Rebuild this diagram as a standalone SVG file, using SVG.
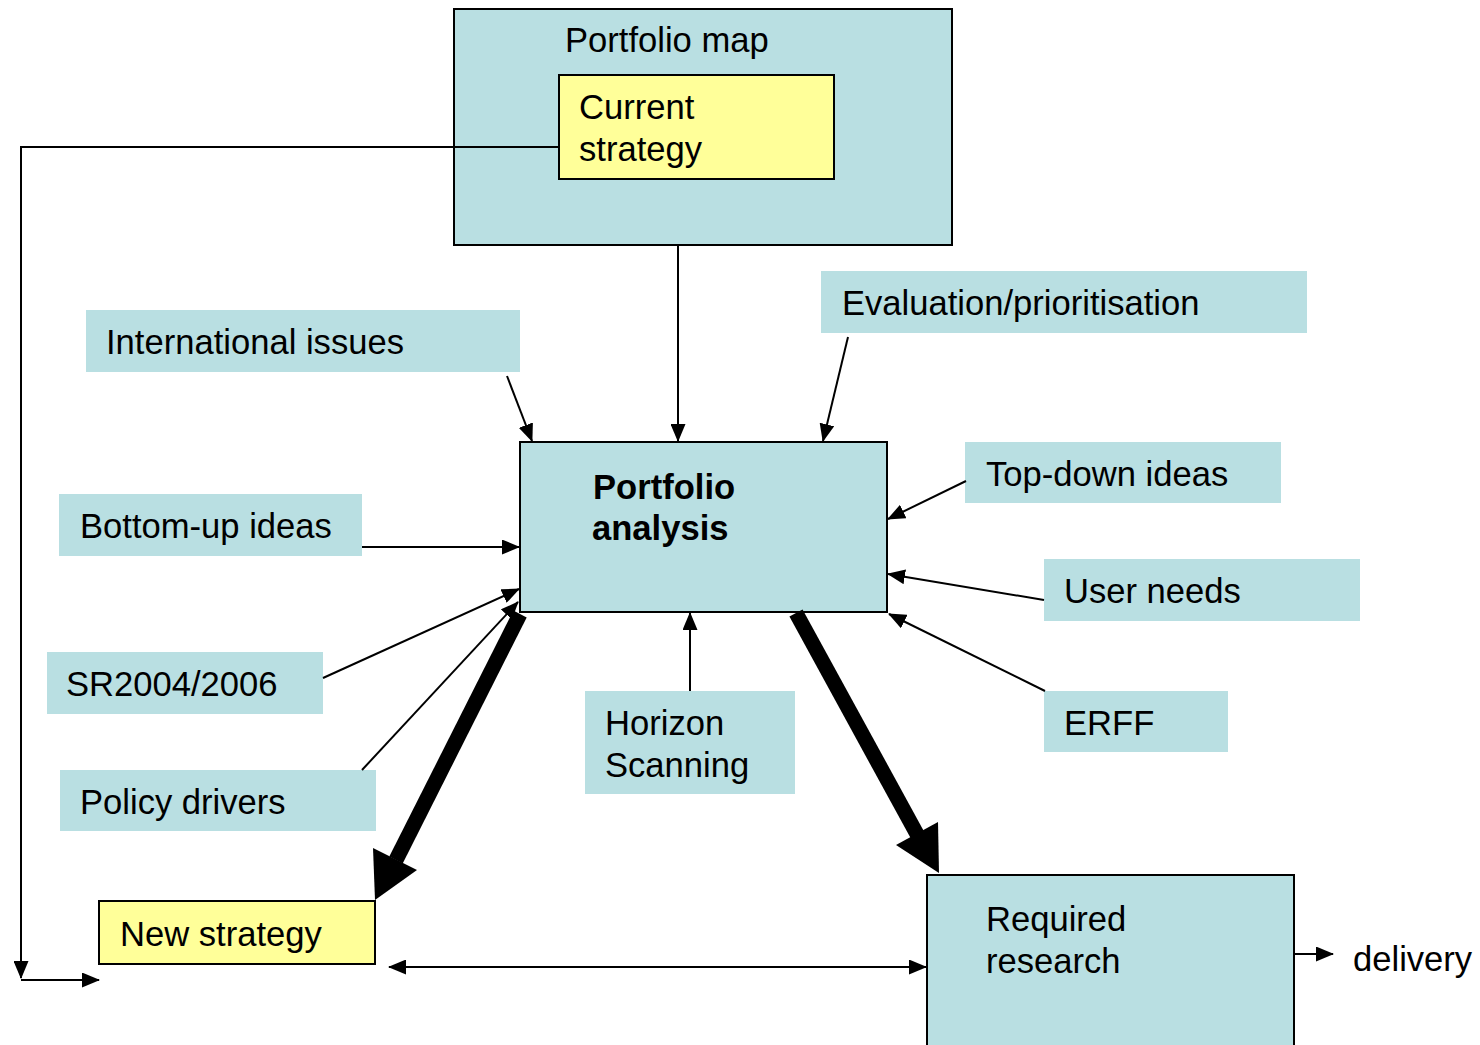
<svg xmlns="http://www.w3.org/2000/svg" width="1480" height="1045" viewBox="0 0 1480 1045">
<defs>
<marker id="ah" markerUnits="userSpaceOnUse" markerWidth="18" markerHeight="15" viewBox="0 0 18 15" refX="17" refY="7.5" orient="auto-start-reverse">
<path d="M0,0 L18,7.5 L0,15 Z" fill="#000"/>
</marker>
<style>
.t{font-family:"Liberation Sans",Arial,sans-serif;font-size:34.6px;fill:#000}
.b{font-weight:bold}
.blue{fill:#B9DFE2}
.blues{fill:#B9DFE2;stroke:#000;stroke-width:2}
.yel{fill:#FFFF99;stroke:#000;stroke-width:2}
.c{fill:none;stroke:#000;stroke-width:2}
</style>
</defs>
<rect width="1480" height="1045" fill="#fff"/>

<g id="portfolio-map">
<rect class="blues" x="454" y="9" width="498" height="236"/>
<text class="t" x="565" y="52">Portfolio map</text>
</g>
<g id="current-strategy">
<rect class="yel" x="559" y="75" width="275" height="104"/>
<text class="t" x="579" y="119">Current</text>
<text class="t" x="579" y="161">strategy</text>
</g>
<g id="international-issues">
<rect class="blue" x="86" y="310" width="434" height="62"/>
<text class="t" x="106" y="354">International issues</text>
</g>
<g id="evaluation">
<rect class="blue" x="821" y="271" width="486" height="62"/>
<text class="t" x="842" y="315">Evaluation/prioritisation</text>
</g>
<g id="portfolio-analysis">
<rect class="blues" x="520" y="442" width="367" height="170"/>
<text class="t b" x="593" y="499">Portfolio</text>
<text class="t b" x="592" y="540">analysis</text>
</g>
<g id="bottom-up">
<rect class="blue" x="59" y="494" width="303" height="62"/>
<text class="t" x="80" y="538">Bottom-up ideas</text>
</g>
<g id="top-down">
<rect class="blue" x="965" y="442" width="316" height="61"/>
<text class="t" x="986" y="486">Top-down ideas</text>
</g>
<g id="user-needs">
<rect class="blue" x="1044" y="559" width="316" height="62"/>
<text class="t" x="1064" y="603">User needs</text>
</g>
<g id="sr2004">
<rect class="blue" x="47" y="652" width="276" height="62"/>
<text class="t" x="66" y="696">SR2004/2006</text>
</g>
<g id="erff">
<rect class="blue" x="1044" y="691" width="184" height="61"/>
<text class="t" x="1064" y="735">ERFF</text>
</g>
<g id="horizon-scanning">
<rect class="blue" x="585" y="691" width="210" height="103"/>
<text class="t" x="605" y="735">Horizon</text>
<text class="t" x="605" y="777">Scanning</text>
</g>
<g id="policy-drivers">
<rect class="blue" x="60" y="770" width="316" height="61"/>
<text class="t" x="80" y="814">Policy drivers</text>
</g>
<g id="new-strategy">
<rect class="yel" x="99" y="901" width="276" height="63"/>
<text class="t" x="120" y="946">New strategy</text>
</g>
<g id="required-research">
<rect class="blues" x="927" y="875" width="367" height="175"/>
<text class="t" x="986" y="931">Required</text>
<text class="t" x="986" y="973">research</text>
</g>
<g id="delivery">
<text class="t" x="1353" y="971">delivery</text>
</g>

<g id="connectors">
<polyline class="c" points="558,147 21,147 21,978" marker-end="url(#ah)"/>
<line class="c" x1="21" y1="980" x2="99" y2="980" marker-end="url(#ah)"/>
<line class="c" x1="678" y1="245" x2="678" y2="441" marker-end="url(#ah)"/>
<line class="c" x1="507" y1="376" x2="532" y2="441" marker-end="url(#ah)"/>
<line class="c" x1="848" y1="337" x2="823" y2="441" marker-end="url(#ah)"/>
<line class="c" x1="966" y1="481" x2="888" y2="519" marker-end="url(#ah)"/>
<line class="c" x1="1044" y1="600" x2="888" y2="574" marker-end="url(#ah)"/>
<line class="c" x1="1045" y1="691" x2="889" y2="614" marker-end="url(#ah)"/>
<line class="c" x1="362" y1="547" x2="519" y2="547" marker-end="url(#ah)"/>
<line class="c" x1="323" y1="678" x2="519" y2="589" marker-end="url(#ah)"/>
<line class="c" x1="362" y1="770" x2="518" y2="602" marker-end="url(#ah)"/>
<line class="c" x1="690" y1="691" x2="690" y2="613" marker-end="url(#ah)"/>
<line class="c" x1="389" y1="967" x2="926" y2="967" marker-start="url(#ah)" marker-end="url(#ah)"/>
<line class="c" x1="1295" y1="954" x2="1333" y2="954" marker-end="url(#ah)"/>
<line x1="520" y1="614" x2="396" y2="860" stroke="#000" stroke-width="15"/>
<polygon points="373,848 417,870 375,900" fill="#000"/>
<line x1="796" y1="613" x2="918" y2="836" stroke="#000" stroke-width="15"/>
<polygon points="896,845 938,822 939,873" fill="#000"/>
</g>
</svg>
